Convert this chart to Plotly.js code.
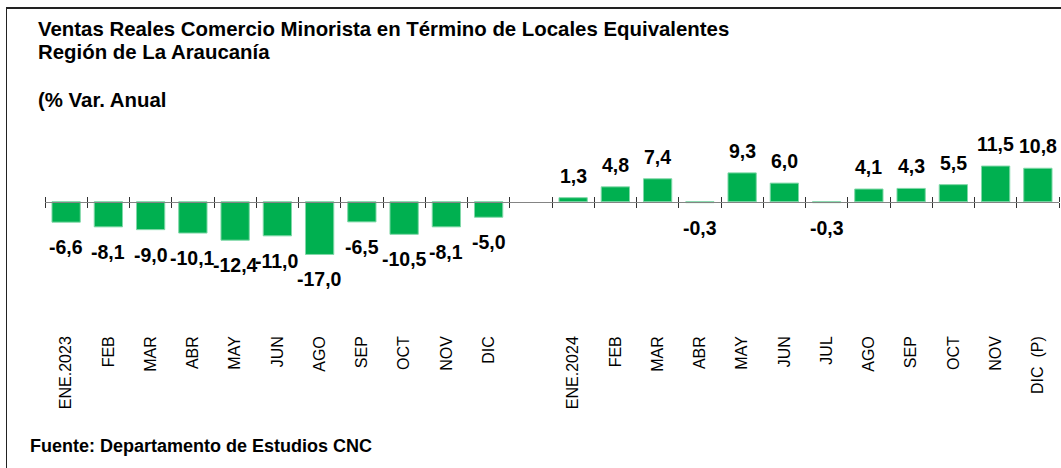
<!DOCTYPE html>
<html>
<head>
<meta charset="utf-8">
<script src="https://cdn.plot.ly/plotly-3.0.1.min.js"></script>
<style>
  html, body { margin: 0; padding: 0; background: #fff; }
  #wrap { position: relative; width: 1061px; height: 468px; overflow: hidden; }
  #chart { width: 1061px; height: 468px; }
  #frame { position: absolute; left: 6px; top: 7px; width: 1100px; height: 500px;
           border-left: 1.5px solid #222; border-top: 2px solid #222; pointer-events: none; }
</style>
</head>
<body>
<div id="wrap"><div id="chart"></div><div id="frame"></div></div>
<script>
// ---- Data ----
const labels2023 = ['ENE.2023','FEB','MAR','ABR','MAY','JUN','AGO','SEP','OCT','NOV','DIC'];
const values2023 = [-6.6,-8.1,-9.0,-10.1,-12.4,-11.0,-17.0,-6.5,-10.5,-8.1,-5.0];
const labels2024 = ['ENE.2024','FEB','MAR','ABR','MAY','JUN','JUL','AGO','SEP','OCT','NOV','DIC  (P)'];
const values2024 = [1.3,4.8,7.4,-0.3,9.3,6.0,-0.3,4.1,4.3,5.5,11.5,10.8];
const titleLines = ['Ventas Reales Comercio Minorista en Término de Locales Equivalentes','Región de La Araucanía','(% Var. Anual'];
const sourceText = 'Fuente: Departamento de Estudios CNC';

// combined series with an empty slot between the years
const labels = [...labels2023, '', ...labels2024];
const values = [...values2023, null, ...values2024];
const xs = labels.map((_, i) => i);
const bounds = labels.map((_, i) => i - 0.5).concat([labels.length - 0.5]);

const FONT = 'Liberation Sans, Arial, sans-serif';
const W = 1061, H = 468, mL = 45, mR = 2, mT = 100, mB = 136;
const plotW = W - mL - mR, plotH = H - mT - mB;
const yRange = [-42.0, 32.8];
const xRange = [-0.5, labels.length - 0.5];
const zeroFrac = (0 - yRange[0]) / (yRange[1] - yRange[0]);
const px2x = px => (px - mL) / plotW;
const px2y = py => (mT + plotH - py) / plotH;

const fmt = v => v.toFixed(1).replace('.', ',');

const annotations = [];
xs.forEach((x, i) => {
  const v = values[i];
  if (v === null) return;
  annotations.push({
    x: x, y: v, xref: 'x', yref: 'y', text: '<b>' + fmt(v) + '</b>', showarrow: false,
    xanchor: 'center', yanchor: v >= 0 ? 'bottom' : 'top', yshift: v >= 0 ? 9 : -12,
    font: {family: FONT, size: 19.5, color: '#000'}
  });
});
const titleBaselines = [42.5, 65, 112.5];
titleLines.forEach((s, i) => {
  annotations.push({
    x: px2x(36), y: px2y(titleBaselines[i]), xref: 'paper', yref: 'paper',
    text: '<b>' + s + '</b>', showarrow: false, xanchor: 'left', yanchor: 'bottom',
    font: {family: FONT, size: 20.4, color: '#000'}
  });
});
annotations.push({
  x: px2x(27.5), y: px2y(458), xref: 'paper', yref: 'paper',
  text: '<b>' + sourceText + '</b>', showarrow: false, xanchor: 'left', yanchor: 'bottom',
  font: {family: FONT, size: 18, color: '#000'}
});

const traces = [
  {
    type: 'bar', x: xs, y: values, xaxis: 'x', yaxis: 'y',
    marker: {color: '#00B050', line: {color: '#80d8a8', width: 1}},
    hoverinfo: 'skip'
  },
  { type: 'scatter', mode: 'none', x: xs, y: values, xaxis: 'x2', yaxis: 'y', hoverinfo: 'skip', showlegend: false },
  { type: 'scatter', mode: 'none', x: xs, y: values, xaxis: 'x3', yaxis: 'y', hoverinfo: 'skip', showlegend: false }
];

const axisTickCommon = {
  range: xRange, overlaying: 'x', anchor: 'free', position: zeroFrac,
  tickmode: 'array', tickvals: bounds, showticklabels: false,
  showgrid: false, zeroline: false, ticks: 'outside', ticklen: 5,
  tickcolor: '#333', tickwidth: 1
};

const layout = {
  width: W, height: H,
  margin: {l: mL, r: mR, t: mT, b: mB, pad: 0},
  paper_bgcolor: '#fff', plot_bgcolor: 'rgba(0,0,0,0)',
  showlegend: false, bargap: 0.33,
  font: {family: FONT, color: '#000'},
  xaxis: {
    range: xRange, tickmode: 'array', tickvals: xs, ticktext: labels, tickangle: -90,
    showline: false, showgrid: false, zeroline: false, ticks: '',
    tickfont: {family: FONT, size: 16, color: '#000'}
  },
  xaxis2: Object.assign({}, axisTickCommon, {side: 'bottom', showline: true, linecolor: '#848484', linewidth: 1.5}),
  xaxis3: Object.assign({}, axisTickCommon, {side: 'top', showline: false}),
  yaxis: {
    range: yRange, visible: false, showgrid: false, zeroline: false, fixedrange: true
  },
  annotations: annotations
};

Plotly.newPlot('chart', traces, layout, {displayModeBar: false, staticPlot: true});
</script>
</body>
</html>
